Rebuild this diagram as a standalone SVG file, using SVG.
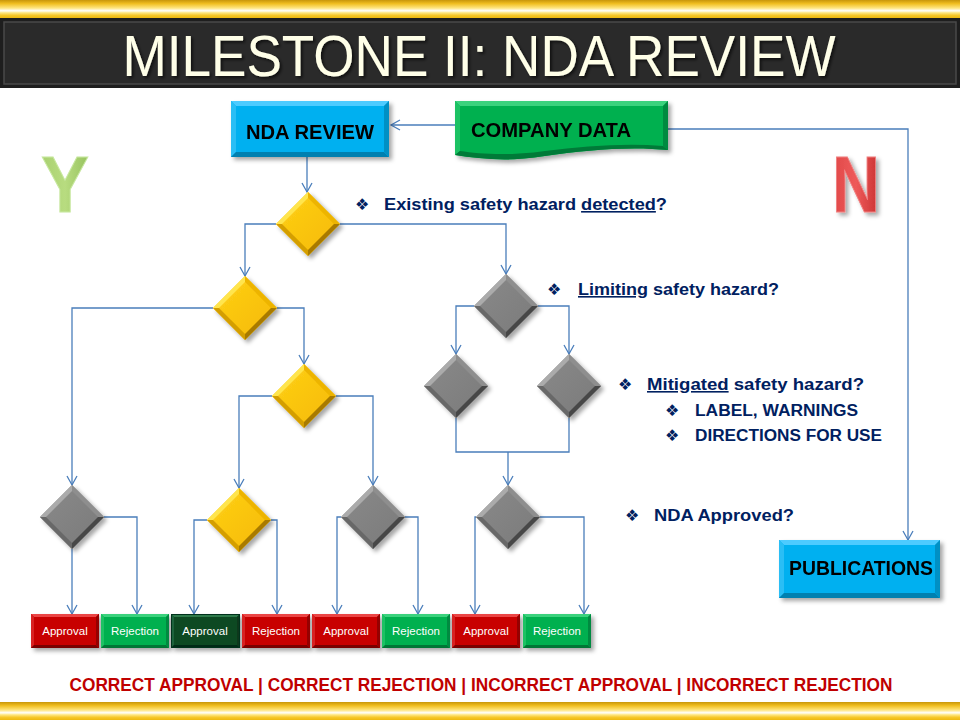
<svg xmlns="http://www.w3.org/2000/svg" xmlns:xlink="http://www.w3.org/1999/xlink" width="960" height="720" viewBox="0 0 960 720">
<defs>
<style>
.conn{fill:none;stroke:#4A7EBB;stroke-width:1.3}
.lbl{font-family:"Liberation Sans","DejaVu Sans",sans-serif;font-weight:bold;font-size:16px;fill:#002060}
.bul{font-family:"DejaVu Sans",sans-serif;font-size:16px;fill:#002060}
.btn{font-family:"Liberation Sans",Arial,sans-serif;font-size:11.5px;fill:#FFFFFF;text-anchor:middle}
.big{font-family:"Liberation Sans",Arial,sans-serif;font-weight:bold;font-size:20px;fill:#000000}
</style>
<linearGradient id="gold" x1="0" y1="0" x2="0" y2="1">
<stop offset="0" stop-color="#C8960A"/>
<stop offset="0.2" stop-color="#F0BE20"/>
<stop offset="0.45" stop-color="#FFE680"/>
<stop offset="0.6" stop-color="#FFFFFF"/>
<stop offset="0.7" stop-color="#FFE98A"/>
<stop offset="0.85" stop-color="#F7C82A"/>
<stop offset="1" stop-color="#EDB80F"/>
</linearGradient>
<linearGradient id="yfill" x1="0" y1="0" x2="1" y2="1">
<stop offset="0" stop-color="#FFD21A"/>
<stop offset="1" stop-color="#F5B800"/>
</linearGradient>
<linearGradient id="gfill" x1="0" y1="0" x2="1" y2="1">
<stop offset="0" stop-color="#8A8A8A"/>
<stop offset="1" stop-color="#7A7A7A"/>
</linearGradient>
<linearGradient id="yLetter" x1="0" y1="0" x2="1" y2="0">
<stop offset="0" stop-color="#A8D070"/>
<stop offset="0.5" stop-color="#B8DC80"/>
<stop offset="1" stop-color="#96C25E"/>
</linearGradient>
<linearGradient id="nLetter" x1="0" y1="0" x2="1" y2="0">
<stop offset="0" stop-color="#E04848"/>
<stop offset="0.5" stop-color="#EE5A5A"/>
<stop offset="1" stop-color="#C83030"/>
</linearGradient>
<filter id="sh" x="-30%" y="-30%" width="160%" height="160%">
<feDropShadow dx="3" dy="3" stdDeviation="2" flood-color="#000" flood-opacity="0.35"/>
</filter>
<filter id="tsh" x="-10%" y="-10%" width="120%" height="130%">
<feDropShadow dx="2" dy="2" stdDeviation="1.5" flood-color="#000" flood-opacity="0.6"/>
</filter>
<marker id="arr" viewBox="-11 -7 13 14" markerWidth="13" markerHeight="14" refX="0" refY="0" orient="auto" markerUnits="userSpaceOnUse">
<path d="M-9,-5 L0,0 L-9,5" fill="none" stroke="#4A7EBB" stroke-width="1.3"/>
</marker>
<g id="dY" filter="url(#sh)">
<polygon points="0,-32 32,0 0,32 -32,0" fill="url(#yfill)"/>
<polygon points="-32,0 0,-32 0,-26 -26,0" fill="#FFE54D"/>
<polygon points="0,-32 32,0 26,0 0,-26" fill="#EDB400"/>
<polygon points="32,0 0,32 0,26 26,0" fill="#A87A00"/>
<polygon points="0,32 -32,0 -26,0 0,26" fill="#D49E00"/>
</g>
<g id="dG" filter="url(#sh)">
<polygon points="0,-32 32,0 0,32 -32,0" fill="url(#gfill)"/>
<polygon points="-32,0 0,-32 0,-26 -26,0" fill="#ABABAB"/>
<polygon points="0,-32 32,0 26,0 0,-26" fill="#8E8E8E"/>
<polygon points="32,0 0,32 0,26 26,0" fill="#474747"/>
<polygon points="0,32 -32,0 -26,0 0,26" fill="#686868"/>
</g>
<g id="bRed" filter="url(#sh)">
<rect x="0" y="0" width="68" height="34" fill="#C80000"/>
<polygon points="0,0 68,0 65,3 3,3" fill="#EA4545"/>
<polygon points="0,0 3,3 3,31 0,34" fill="#D82020"/>
<polygon points="0,34 3,31 65,31 68,34" fill="#7A0000"/>
<polygon points="68,0 68,34 65,31 65,3" fill="#960000"/>
</g>
<g id="bGreen" filter="url(#sh)">
<rect x="0" y="0" width="68" height="34" fill="#00B050"/>
<polygon points="0,0 68,0 65,3 3,3" fill="#3AD27D"/>
<polygon points="0,0 3,3 3,31 0,34" fill="#1CC264"/>
<polygon points="0,34 3,31 65,31 68,34" fill="#007636"/>
<polygon points="68,0 68,34 65,31 65,3" fill="#008A40"/>
</g>
<g id="bDark" filter="url(#sh)">
<rect x="0" y="0" width="69" height="34" fill="#0B4A24"/>
<polygon points="0,0 69,0 66,3 3,3" fill="#2F7A4B"/>
<polygon points="0,0 3,3 3,31 0,34" fill="#1D623A"/>
<polygon points="0,34 3,31 66,31 69,34" fill="#052A13"/>
<polygon points="69,0 69,34 66,31 66,3" fill="#07381A"/>
<rect x="0.5" y="0.5" width="68" height="33" fill="none" stroke="#06331A" stroke-width="1"/>
</g>
</defs>

<rect x="0" y="0" width="960" height="720" fill="#FFFFFF"/>

<g id="header">
<rect x="0" y="0" width="960" height="18" fill="url(#gold)"/>
<rect x="0" y="18" width="960" height="70" fill="#1E1E1E"/>
<rect x="4" y="22" width="952" height="62" fill="#2A2A2A" stroke="#4A4A4A" stroke-width="1.5"/>
<text x="479" y="76" text-anchor="middle" font-family="'Liberation Sans',Arial,sans-serif" font-size="58" fill="#FFFFE8" textLength="713" lengthAdjust="spacingAndGlyphs" filter="url(#tsh)">MILESTONE II: NDA REVIEW</text>
</g>

<g id="footer">
<rect x="0" y="702" width="960" height="18" fill="url(#gold)"/>
<text x="481" y="691" text-anchor="middle" font-family="'Liberation Sans',Arial,sans-serif" font-weight="bold" font-size="18" fill="#C00000" textLength="823" lengthAdjust="spacingAndGlyphs">CORRECT APPROVAL | CORRECT REJECTION | INCORRECT APPROVAL | INCORRECT REJECTION</text>
</g>

<g id="letters">
<text x="65" y="212" text-anchor="middle" font-family="'Liberation Sans',Arial,sans-serif" font-weight="bold" font-size="80" fill="url(#yLetter)" stroke="#C8E8A0" stroke-width="1" textLength="48" lengthAdjust="spacingAndGlyphs">Y</text>
<text x="856" y="212" text-anchor="middle" font-family="'Liberation Sans',Arial,sans-serif" font-weight="bold" font-size="80" fill="url(#nLetter)" stroke="#F08080" stroke-width="1" textLength="48" lengthAdjust="spacingAndGlyphs" filter="url(#sh)">N</text>
</g>

<g id="connectors">
<path class="conn" d="M455,125 H391" marker-end="url(#arr)"/>
<path class="conn" d="M668,129 H908 V540" marker-end="url(#arr)"/>
<path class="conn" d="M307,157 V192" marker-end="url(#arr)"/>
<path class="conn" d="M276,224 H245 V276" marker-end="url(#arr)"/>
<path class="conn" d="M340,224 H506 V274" marker-end="url(#arr)"/>
<path class="conn" d="M213,308 H72 V485" marker-end="url(#arr)"/>
<path class="conn" d="M277,308 H304 V364" marker-end="url(#arr)"/>
<path class="conn" d="M272,396 H239 V488" marker-end="url(#arr)"/>
<path class="conn" d="M336,396 H373 V485" marker-end="url(#arr)"/>
<path class="conn" d="M474,306 H456 V354" marker-end="url(#arr)"/>
<path class="conn" d="M538,306 H569 V354" marker-end="url(#arr)"/>
<path class="conn" d="M456,418 V452 H569 V418"/>
<path class="conn" d="M508,452 V485" marker-end="url(#arr)"/>
<path class="conn" d="M72,549 V614" marker-end="url(#arr)"/>
<path class="conn" d="M104,517 H137 V614" marker-end="url(#arr)"/>
<path class="conn" d="M207,520 H194 V614" marker-end="url(#arr)"/>
<path class="conn" d="M271,520 H277 V614" marker-end="url(#arr)"/>
<path class="conn" d="M341,517 H337 V614" marker-end="url(#arr)"/>
<path class="conn" d="M405,517 H418 V614" marker-end="url(#arr)"/>
<path class="conn" d="M476,517 H475 V614" marker-end="url(#arr)"/>
<path class="conn" d="M540,517 H584 V614" marker-end="url(#arr)"/>
</g>

<g id="nda-review" filter="url(#sh)">
<rect x="231" y="101" width="158" height="56" fill="#00B0F0"/>
<polygon points="231,101 389,101 384,106 236,106" fill="#4DCBFF"/>
<polygon points="231,101 236,106 236,152 231,157" fill="#2ABEF5"/>
<polygon points="231,157 236,152 384,152 389,157" fill="#0080B0"/>
<polygon points="389,101 389,157 384,152 384,106" fill="#0090C4"/>
<text class="big" x="310" y="139" text-anchor="middle" textLength="128" lengthAdjust="spacingAndGlyphs">NDA REVIEW</text>
</g>

<g id="company-data" filter="url(#sh)">
<path d="M455,101 H668 V150 C630,146 585,150 545,156 C510,162 480,159 455,155 Z" fill="#00B050"/>
<polygon points="455,101 668,101 663,106 460,106" fill="#3AD27D"/>
<polygon points="455,101 460,106 460,151 455,155" fill="#1CC264"/>
<polygon points="668,101 668,150 663,146 663,106" fill="#008A40"/>
<path d="M455,155 C480,159 510,162 545,156 C585,150 630,146 668,150 L663,146 C625,143 585,146 545,151 C510,156 480,154 460,151 Z" fill="#007A38"/>
<text class="big" x="471" y="137" textLength="160" lengthAdjust="spacingAndGlyphs">COMPANY DATA</text>
</g>

<g id="publications" filter="url(#sh)">
<rect x="779" y="540" width="161" height="58" fill="#00B0F0"/>
<polygon points="779,540 940,540 935,545 784,545" fill="#4DCBFF"/>
<polygon points="779,540 784,545 784,593 779,598" fill="#2ABEF5"/>
<polygon points="779,598 784,593 935,593 940,598" fill="#0080B0"/>
<polygon points="940,540 940,598 935,593 935,545" fill="#0090C4"/>
<text class="big" x="789" y="575" textLength="144" lengthAdjust="spacingAndGlyphs">PUBLICATIONS</text>
</g>

<g id="d1"><use xlink:href="#dY" x="308" y="224"/></g>
<g id="d2"><use xlink:href="#dY" x="245" y="308"/></g>
<g id="d5"><use xlink:href="#dY" x="304" y="396"/></g>
<g id="d6"><use xlink:href="#dY" x="239" y="520"/></g>
<g id="d3"><use xlink:href="#dG" x="506" y="306"/></g>
<g id="d9"><use xlink:href="#dG" x="456" y="386"/></g>
<g id="d10"><use xlink:href="#dG" x="569" y="386"/></g>
<g id="d4"><use xlink:href="#dG" x="72" y="517"/></g>
<g id="d7"><use xlink:href="#dG" x="373" y="517"/></g>
<g id="d8"><use xlink:href="#dG" x="508" y="517"/></g>

<g id="box-approval-1"><use xlink:href="#bRed" x="31" y="614"/><text class="btn" x="65" y="635">Approval</text></g>
<g id="box-rejection-1"><use xlink:href="#bGreen" x="101" y="614"/><text class="btn" x="135" y="635">Rejection</text></g>
<g id="box-approval-2"><use xlink:href="#bDark" x="171" y="614"/><text class="btn" x="205" y="635">Approval</text></g>
<g id="box-rejection-2"><use xlink:href="#bRed" x="242" y="614"/><text class="btn" x="276" y="635">Rejection</text></g>
<g id="box-approval-3"><use xlink:href="#bRed" x="312" y="614"/><text class="btn" x="346" y="635">Approval</text></g>
<g id="box-rejection-3"><use xlink:href="#bGreen" x="382" y="614"/><text class="btn" x="416" y="635">Rejection</text></g>
<g id="box-approval-4"><use xlink:href="#bRed" x="452" y="614"/><text class="btn" x="486" y="635">Approval</text></g>
<g id="box-rejection-4"><use xlink:href="#bGreen" x="523" y="614"/><text class="btn" x="557" y="635">Rejection</text></g>

<g id="labels">
<text class="bul" x="355" y="210">❖</text>
<text class="lbl" x="384" y="210" textLength="283" lengthAdjust="spacingAndGlyphs">Existing safety hazard <tspan text-decoration="underline">detected</tspan>?</text>
<text class="bul" x="547" y="295">❖</text>
<text class="lbl" x="578" y="295" textLength="201" lengthAdjust="spacingAndGlyphs"><tspan text-decoration="underline">Limiting</tspan> safety hazard?</text>
<text class="bul" x="618" y="390">❖</text>
<text class="lbl" x="647" y="390" textLength="217" lengthAdjust="spacingAndGlyphs"><tspan text-decoration="underline">Mitigated</tspan> safety hazard?</text>
<text class="bul" x="665" y="416">❖</text>
<text class="lbl" x="695" y="416" textLength="163" lengthAdjust="spacingAndGlyphs">LABEL, WARNINGS</text>
<text class="bul" x="665" y="441">❖</text>
<text class="lbl" x="695" y="441" textLength="187" lengthAdjust="spacingAndGlyphs">DIRECTIONS FOR USE</text>
<text class="bul" x="625" y="521">❖</text>
<text class="lbl" x="654" y="521" textLength="140" lengthAdjust="spacingAndGlyphs">NDA Approved?</text>
</g>
</svg>
